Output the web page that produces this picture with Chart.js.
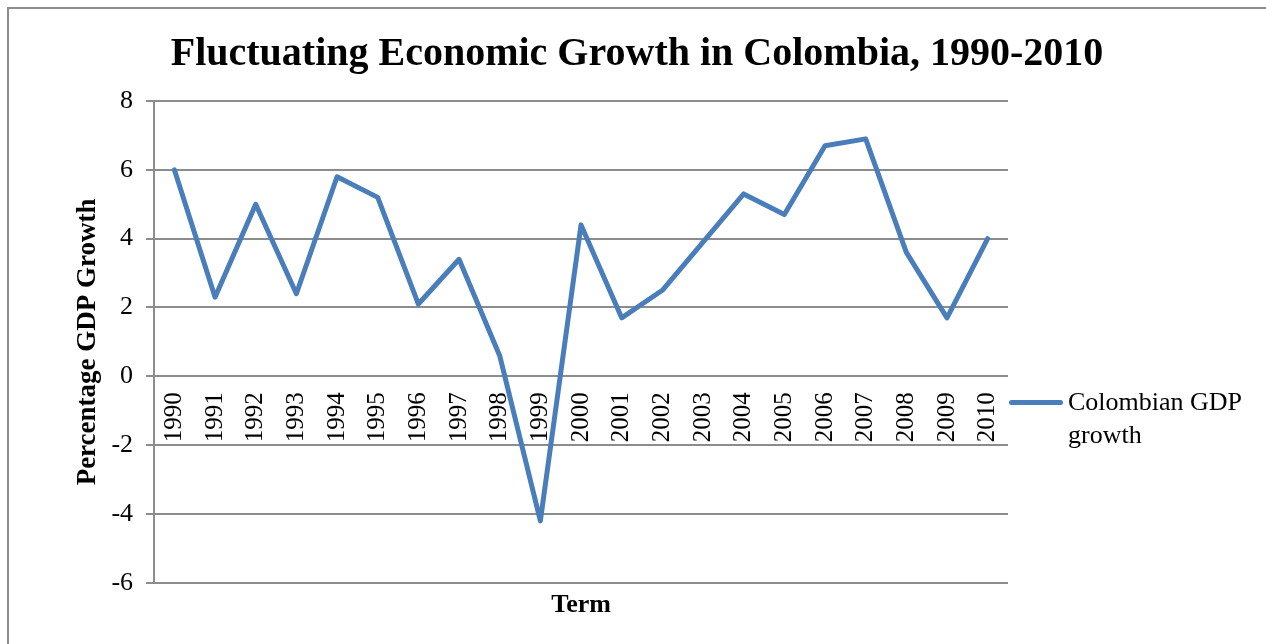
<!DOCTYPE html>
<html>
<head>
<meta charset="utf-8">
<script src="https://cdn.jsdelivr.net/npm/chart.js@4"></script>
<style>
  html, body { margin: 0; padding: 0; background: #fff; overflow: hidden; }
  #frame {
    position: absolute; left: 7px; top: 7px; width: 1300px; height: 700px;
    border: 2px solid #8c8c8c; box-sizing: border-box;
  }
  #wrap { position: absolute; left: 0; top: 0; width: 1266px; height: 644px; }
  #legendLine {
    position: absolute; left: 1009px; top: 400px; width: 54px; height: 5px;
    border-radius: 3px; background: #4a7ebb;
  }
  #legendText {
    position: absolute; left: 1068px; top: 385px; width: 190px;
    font: 26px 'Liberation Serif', 'Times New Roman', serif; line-height: 33px; color: #000;
  }
</style>
</head>
<body>
<div id="frame"></div>
<div id="wrap"><canvas id="gdpChart"></canvas></div>
<div id="legendLine"></div>
<div id="legendText"></div>
<script>
const years = ["1990", "1991", "1992", "1993", "1994", "1995", "1996", "1997", "1998", "1999",
               "2000", "2001", "2002", "2003", "2004", "2005", "2006", "2007", "2008", "2009", "2010"];
const gdpGrowth = [6.0, 2.3, 5.0, 2.4, 5.8, 5.2, 2.1, 3.4, 0.6, -4.2,
                   4.4, 1.7, 2.5, 3.9, 5.3, 4.7, 6.7, 6.9, 3.6, 1.7, 4.0];
const seriesName = "Colombian GDP growth";
const yTicks = [-6, -4, -2, 0, 2, 4, 6, 8];

const serif = "'Liberation Serif', 'Times New Roman', serif";
const gridGray = "#8c8c8c";
const lineBlue = "#4a7ebb";

Chart.defaults.font.family = serif;
Chart.defaults.color = "#000";

document.getElementById("legendText").textContent = seriesName;

const ctx = document.getElementById("gdpChart").getContext("2d");
new Chart(ctx, {
    type: "line",
    data: {
        labels: years,
        datasets: [{
            label: seriesName,
            data: gdpGrowth,
            borderColor: lineBlue,
            backgroundColor: lineBlue,
            borderWidth: 5,
            borderJoinStyle: "round",
            borderCapStyle: "round",
            pointRadius: 0,
            tension: 0
        }]
    },
    options: {
        responsive: true,
        maintainAspectRatio: false,
        animation: false,
        layout: { padding: { left: 8, right: 0, top: 0, bottom: 18 } },
        plugins: {
            legend: { display: false },
            tooltip: { enabled: false },
            title: {
                display: true,
                text: "Fluctuating Economic Growth in Colombia, 1990-2010",
                font: { size: 40, weight: "bold" },
                color: "#000",
                padding: { top: 31, bottom: 22 }
            }
        },
        scales: {
            x: {
                type: "category",
                offset: true,
                position: { y: 0 },
                grid: { display: false, drawTicks: false },
                border: { display: false },
                ticks: {
                    autoSkip: false,
                    minRotation: 90,
                    maxRotation: 90,
                    padding: 16,
                    font: { size: 25 },
                    color: "#000"
                }
            },
            xTitle: {
                type: "category",
                position: "bottom",
                labels: years,
                grid: { display: false, drawTicks: false },
                border: { display: false },
                ticks: { display: false },
                title: {
                    display: true,
                    text: "Term",
                    font: { size: 26, weight: "bold" },
                    color: "#000",
                    padding: { top: 7, bottom: 5 }
                }
            },
            y: {
                min: -6,
                max: 8,
                afterBuildTicks: (scale) => { scale.ticks = yTicks.map(v => ({ value: v })); },
                grid: { color: gridGray, lineWidth: 2, tickLength: 8 },
                border: { color: gridGray, width: 2 },
                ticks: { padding: 13, font: { size: 26 }, color: "#000" },
                title: {
                    display: true,
                    text: "Percentage GDP Growth",
                    font: { size: 27, weight: "bold" },
                    color: "#000",
                    padding: { top: 64, bottom: -6 }
                }
            },
            // empty right-hand box that keeps room for the legend
            legendSpace: {
                type: "linear",
                position: "right",
                grid: { display: false, drawTicks: false },
                border: { display: false },
                ticks: { display: false },
                afterFit: (scale) => { scale.width = 258; }
            }
        }
    }
});
</script>
</body>
</html>
